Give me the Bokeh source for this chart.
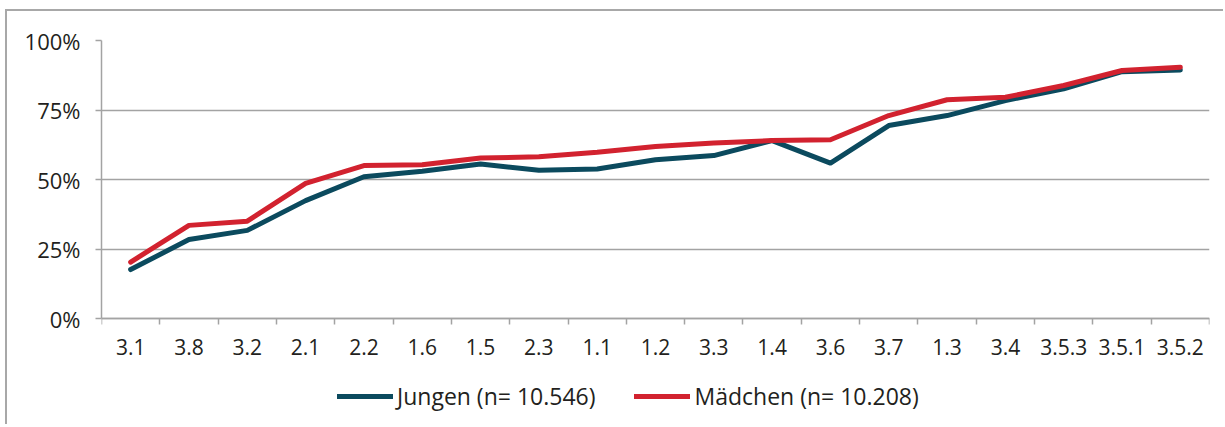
from bokeh.plotting import figure
from bokeh.models import FixedTicker, PrintfTickFormatter, Range1d, Legend, LegendItem
from bokeh.embed import file_html
from bokeh.resources import INLINE

categories = ["3.1", "3.8", "3.2", "2.1", "2.2", "1.6", "1.5", "2.3", "1.1", "1.2",
              "3.3", "1.4", "3.6", "3.7", "1.3", "3.4", "3.5.3", "3.5.1", "3.5.2"]
jungen = [17.6, 28.4, 31.7, 42.4, 51.0, 53.0, 55.6, 53.3, 53.8, 57.1,
          58.6, 64.0, 55.9, 69.4, 73.0, 78.4, 82.6, 88.8, 89.4]
maedchen = [20.3, 33.5, 35.0, 48.6, 55.0, 55.3, 57.7, 58.2, 59.8, 61.9,
            63.1, 64.0, 64.3, 73.0, 78.7, 79.6, 83.8, 89.2, 90.4]
y_ticks = [0, 25, 50, 75, 100]
series_names = ["Jungen (n= 10.546)", "Mädchen (n= 10.208)"]
colors = ["#0b4a5e", "#d2222f"]

FONT = "Open Sans"
FS = "21px"
FS_Y = "22px"
FS_LEG = "23px"
GRAY = "#a3a3a3"
TXT = "#231f20"

n = len(categories)
xs = [i + 0.5 for i in range(n)]

# frame: 100% at y=40, 0% at y=318, frame bottom at y=426 (page px)
y_bottom = -(426 - 318) / (318 - 40) * 100

p = figure(width=1218, height=415, output_backend="svg", toolbar_location=None,
           x_range=Range1d(0, n), y_range=Range1d(y_bottom, 100),
           min_border_left=94, min_border_right=16, min_border_top=29, min_border_bottom=0)
p.outline_line_color = None
p.background_fill_color = "white"
p.border_fill_color = "white"
p.styles = {"border-left": "2px solid #a8a8a8", "border-top": "2px solid #a8a8a8",
            "margin-left": "5px", "margin-top": "9px"}

# grid
p.xgrid.visible = False
p.ygrid.ticker = FixedTicker(ticks=y_ticks)
p.ygrid.grid_line_color = GRAY
p.ygrid.grid_line_width = 1.5

# y axis
p.yaxis.ticker = FixedTicker(ticks=y_ticks)
p.yaxis.bounds = (0, 100)
p.yaxis.formatter = PrintfTickFormatter(format="%d%%")
p.yaxis.axis_line_color = GRAY
p.yaxis.axis_line_width = 1.5
p.yaxis.major_tick_line_color = GRAY
p.yaxis.major_tick_line_width = 1.5
p.yaxis.major_tick_out = 6
p.yaxis.major_tick_in = 0
p.yaxis.minor_tick_line_color = None
p.yaxis.major_label_standoff = 15
p.yaxis.major_label_text_font = FONT
p.yaxis.major_label_text_font_size = FS_Y
p.yaxis.major_label_text_color = TXT

# x axis (pinned at 0%)
p.xaxis.fixed_location = 0
p.xaxis.ticker = FixedTicker(ticks=xs, minor_ticks=list(range(n + 1)))
p.xaxis.major_label_overrides = {x: c for x, c in zip(xs, categories)}
p.xaxis.axis_line_color = GRAY
p.xaxis.axis_line_width = 1.5
p.xaxis.major_tick_line_color = None
p.xaxis.major_tick_out = 0
p.xaxis.major_tick_in = 0
p.xaxis.minor_tick_line_color = GRAY
p.xaxis.minor_tick_line_width = 1.5
p.xaxis.minor_tick_out = 6
p.xaxis.minor_tick_in = 0
p.xaxis.major_label_standoff = 14
p.xaxis.major_label_text_font = FONT
p.xaxis.major_label_text_font_size = FS
p.xaxis.major_label_text_color = TXT

r1 = p.line(xs, jungen, line_color=colors[0], line_width=5, line_join="round", line_cap="round")
r2 = p.line(xs, maedchen, line_color=colors[1], line_width=5, line_join="round", line_cap="round")

legend = Legend(items=[LegendItem(label=series_names[0], renderers=[r1]),
                       LegendItem(label=series_names[1], renderers=[r2])],
                orientation="horizontal", location=(236, 14),
                glyph_width=56, glyph_height=20, label_height=20, label_standoff=4, spacing=39,
                padding=0, margin=0, border_line_color=None, background_fill_alpha=0,
                label_text_font=FONT, label_text_font_size=FS_LEG, label_text_color=TXT)
p.add_layout(legend, "center")

open("out.html", "w").write(file_html(p, INLINE))
